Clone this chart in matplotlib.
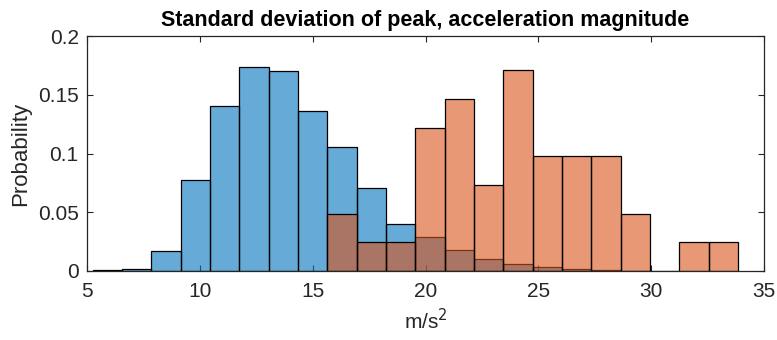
import matplotlib
matplotlib.use("Agg")
import matplotlib.pyplot as plt
import numpy as np

plt.rcParams['font.family'] = ['Liberation Sans', 'DejaVu Sans']

# Bin edges (m/s^2) shared by both histograms
blue_edges = [5.25, 6.55, 7.85, 9.15, 10.45, 11.75, 13.05, 14.35, 15.65, 16.95,
              18.25, 19.55, 20.85, 22.15, 23.45, 24.75, 26.05, 27.35, 28.65, 29.95]
blue_prob = [0.0007, 0.0014, 0.0168, 0.0773, 0.1403, 0.1735, 0.1698, 0.1360, 0.1054,
             0.0704, 0.0398, 0.0287, 0.0176, 0.0100, 0.0057, 0.0035, 0.0017, 0.0006, 0.0003]

orange_edges = [15.65, 16.95, 18.25, 19.55, 20.85, 22.15, 23.45, 24.75, 26.05, 27.35,
                28.65, 29.95, 31.25, 32.55, 33.85]
orange_counts = [2, 1, 1, 5, 6, 3, 7, 4, 4, 4, 2, 0, 1, 1]
orange_total = 41

xticks = [5, 10, 15, 20, 25, 30, 35]
yticks = [0, 0.05, 0.1, 0.15, 0.2]
ytick_labels = ['0', '0.05', '0.1', '0.15', '0.2']

blue = (0.0, 0.447, 0.741)
orange = (0.85, 0.325, 0.098)
axis_gray = '#262626'

fig = plt.figure(figsize=(7.77, 3.40), dpi=100)
ax = fig.add_axes([87 / 777, 1 - 271 / 340, (764 - 87) / 777, (271 - 36) / 340])

be = np.array(blue_edges)
ax.bar(be[:-1], blue_prob, width=np.diff(be), align='edge',
       color=blue, alpha=0.6, edgecolor='none', zorder=2)
ax.bar(be[:-1], blue_prob, width=np.diff(be), align='edge',
       facecolor='none', edgecolor='black', linewidth=0.9, zorder=2)

oe = np.array(orange_edges)
orange_prob = np.array(orange_counts) / orange_total
ax.bar(oe[:-1], orange_prob, width=np.diff(oe), align='edge',
       color=orange, alpha=0.6, edgecolor='none', zorder=3)
ax.bar(oe[:-1], orange_prob, width=np.diff(oe), align='edge',
       facecolor='none', edgecolor='black', linewidth=0.9, zorder=3)

ax.set_xlim(5, 35)
ax.set_ylim(0, 0.2)
ax.set_xticks(xticks)
ax.set_yticks(yticks)
ax.set_yticklabels(ytick_labels)

ax.tick_params(axis='both', direction='in', length=4, width=0.8, colors=axis_gray,
               labelsize=15, top=True, right=True, pad=6)
ax.tick_params(axis='x', pad=8)
for s in ax.spines.values():
    s.set_color(axis_gray)
    s.set_linewidth(0.9)
    s.set_zorder(5)

ax.set_title('Standard deviation of peak, acceleration magnitude',
             fontsize=15.5, fontweight='bold', pad=7)
ax.set_xlabel('m/s$^2$', fontsize=15, color=axis_gray, labelpad=5)
ax.set_ylabel('Probability', fontsize=16, color=axis_gray, labelpad=5)

fig.savefig('out.png', dpi=100)
